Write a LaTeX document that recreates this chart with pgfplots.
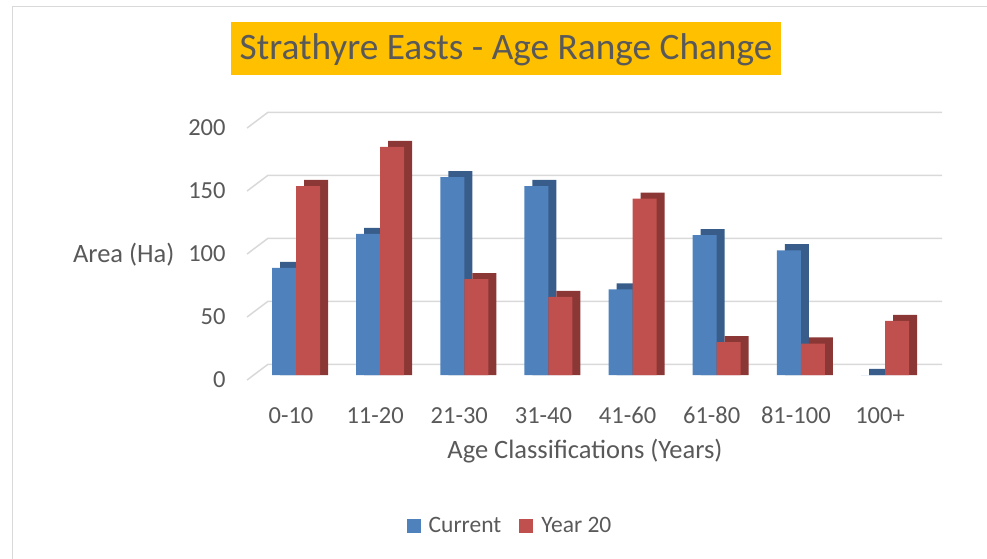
\documentclass[border=0pt]{standalone}
\usepackage{pgfplots}
\pgfplotsset{compat=1.18}
\usepackage{pgfplotstable}
\usepackage{fontspec}
\setmainfont{Carlito}
\definecolor{txt}{HTML}{595959}
\definecolor{cblue}{HTML}{4F81BD}
\definecolor{cblued}{HTML}{385D8A}
\definecolor{cred}{HTML}{C0504D}
\definecolor{credd}{HTML}{8A3735}
\definecolor{gridc}{HTML}{D9D9D9}
\definecolor{gold}{HTML}{FFC000}

\pgfplotstableread{
cat cur y20
0 85 150
1 112 181
2 157 76
3 150 62
4 68 140
5 111 26
6 99 25
7 0 43
}\data

\begin{document}
\begin{tikzpicture}[x=1pt,y=1pt]
\useasboundingbox (0,0) rectangle (987,558);
\draw[gridc, line width=1.5pt] (12.5,-5) -- (12.5,551.5) -- (995,551.5);
\fill[gold] (231,482.7) rectangle (781,535.7);
\node[txt, font=\fontsize{37.3}{40}\selectfont, inner sep=0pt] at (506,508.5) {Strathyre Easts - Age Range Change};
\node[txt, font=\fontsize{26.5}{29}\selectfont, inner sep=0pt] at (123.7,303) {Area (Ha)};
\node[txt, font=\fontsize{26.5}{29}\selectfont, inner sep=0pt] at (585,107) {Age Classifications (Years)};
\begin{axis}[
  at={(296pt,183pt)}, anchor=origin,
  width=698.4pt, height=270.9pt, scale only axis,
  xmin=-0.6, xmax=7.7, ymin=-5, ymax=210,
  axis line style={draw=none}, tick style={draw=none},
  clip=false,
  ybar, bar width=24pt,
  xtick={0,...,7},
  xticklabels={0-10,11-20,21-30,31-40,41-60,61-80,81-100,100+},
  ytick={-4,46,96,146,196},
  yticklabels={0,50,100,150,200},
  ticklabel style={font=\fontsize{24.5}{27}\selectfont, text=txt},
  /pgf/number format/assume math mode=true,
  yticklabel style={anchor=east, inner sep=0pt, xshift=-19.8pt},
  xticklabel style={anchor=center, inner sep=0pt, yshift=-29.7pt, xshift=-5pt},
  legend columns=2,
  legend style={at={(0.3787,-0.534)}, anchor=center, draw=none, fill=none,
    font=\fontsize{23.5}{26}\selectfont, text=txt,
    /tikz/every even column/.append style={column sep=16pt}},
  legend image code/.code={\fill[#1] (0pt,-7pt) rectangle (14pt,7pt); \path (0pt,0pt) (20pt,0pt);},
]
% back-wall gridlines with the short diagonal at the left
\addplot[sharp plot, gridc, line width=1.5pt, forget plot] coordinates {(-0.582,-4) (-0.333,8.5) (7.678,8.5)};
\addplot[sharp plot, gridc, line width=1.5pt, forget plot] coordinates {(-0.582,46) (-0.333,58.5) (7.678,58.5)};
\addplot[sharp plot, gridc, line width=1.5pt, forget plot] coordinates {(-0.582,96) (-0.333,108.5) (7.678,108.5)};
\addplot[sharp plot, gridc, line width=1.5pt, forget plot] coordinates {(-0.582,146) (-0.333,158.5) (7.678,158.5)};
\addplot[sharp plot, gridc, line width=1.5pt, forget plot] coordinates {(-0.582,196) (-0.333,208.5) (7.678,208.5)};
% Current: depth face then front face
\addplot[ybar, bar shift=-4pt, fill=cblued, draw=none, forget plot] table[x=cat, y expr=\thisrow{cur}+4.8] {\data};
\addplot[ybar, bar shift=-12pt, fill=cblue, draw=none] table[x=cat, y=cur] {\data};
\addlegendentry{Current}
% Year 20
\addplot[ybar, bar shift=20pt, fill=credd, draw=none, forget plot] table[x=cat, y expr=\thisrow{y20}+4.8] {\data};
\addplot[ybar, bar shift=12pt, fill=cred, draw=none] table[x=cat, y=y20] {\data};
\addlegendentry{Year 20}
\end{axis}
\end{tikzpicture}
\end{document}
